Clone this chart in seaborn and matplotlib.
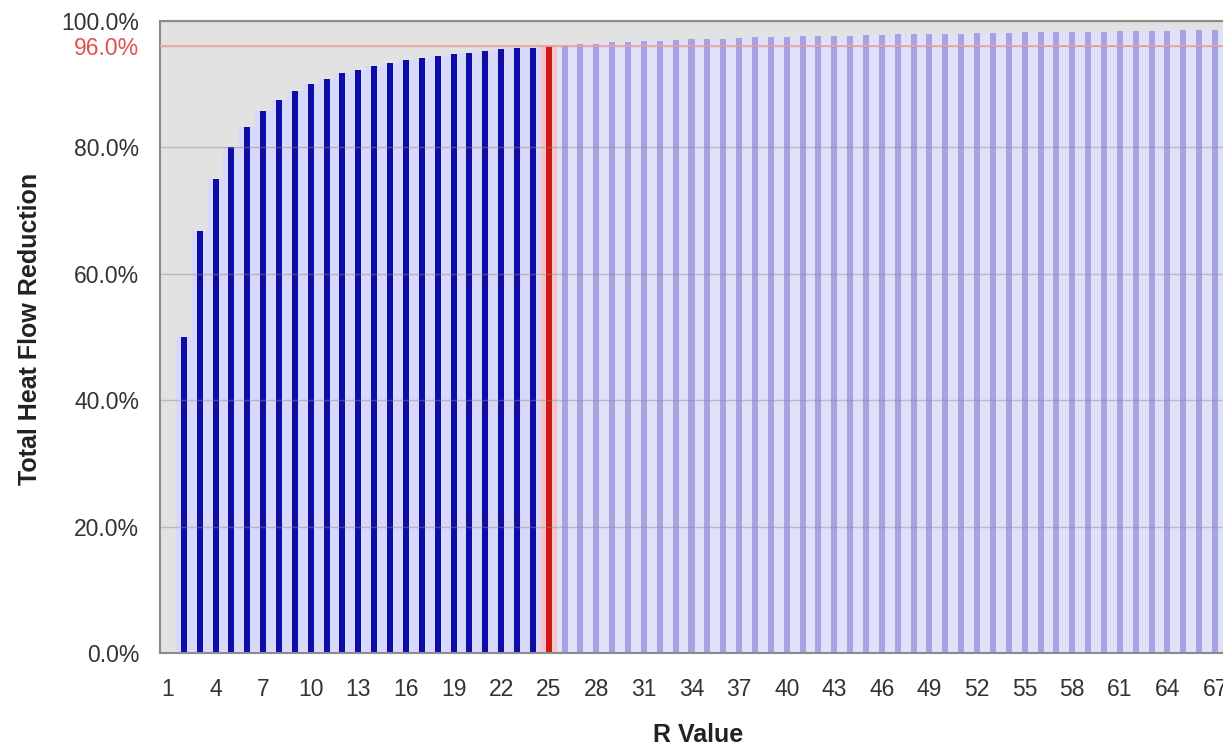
import numpy as np
import pandas as pd
import seaborn as sns
import matplotlib.pyplot as plt
from matplotlib.ticker import FixedLocator

# R value (categories) and total heat flow reduction in %
r_values = list(range(1, 68))
reduction = [0.0, 50.0, 66.7, 75.0, 80.0, 83.3, 85.7, 87.5, 88.9, 90.0,
             90.9, 91.7, 92.3, 92.9, 93.3, 93.8, 94.1, 94.4, 94.7, 95.0,
             95.2, 95.5, 95.7, 95.8, 96.0, 96.2, 96.3, 96.4, 96.6, 96.7,
             96.8, 96.9, 97.0, 97.1, 97.1, 97.2, 97.3, 97.4, 97.4, 97.5,
             97.6, 97.6, 97.7, 97.7, 97.8, 97.8, 97.9, 97.9, 98.0, 98.0,
             98.0, 98.1, 98.1, 98.1, 98.2, 98.2, 98.2, 98.3, 98.3, 98.3,
             98.4, 98.4, 98.4, 98.4, 98.5, 98.5, 98.5]
target_r = 25
target_pct = 96.0
y_ticks = [0, 20, 40, 60, 80, 100]

df = pd.DataFrame({'R': r_values, 'reduction': reduction})
df['group'] = np.where(df['R'] < target_r, 'below',
                       np.where(df['R'] == target_r, 'target', 'above'))

sns.set_style('white')
plt.rcParams['font.family'] = ['Liberation Sans', 'DejaVu Sans']

fig = plt.figure(figsize=(12.23, 7.47), dpi=100)
ax = fig.add_axes([160 / 1223, 1 - 653 / 747, 1 - 160 / 1223, (653 - 21) / 747])
ax.set_facecolor('#E2E2E2')

# wide pale fill behind each bar
back_cols = {'below': '#D8D8FB', 'target': '#F6C4C8', 'above': '#E0E0F9'}
sns.barplot(ax=ax, data=df, x='R', y='reduction', hue='group', palette=back_cols,
            width=1.0, dodge=False, saturation=1, legend=False, linewidth=0)
# narrow bars in front
bar_cols = {'below': '#0E0EA6', 'target': '#D01818', 'above': '#A4A4E2'}
sns.barplot(ax=ax, data=df, x='R', y='reduction', hue='group', palette=bar_cols,
            width=0.38, dodge=False, saturation=1, legend=False, linewidth=0)

ax.set_xlim(-0.5, 66.5)
ax.set_ylim(0, 100)

# y axis
ax.set_yticks(y_ticks + [target_pct])
ax.set_yticklabels([f'{v:.1f}%' for v in y_ticks + [target_pct]])
ax.yaxis.grid(True, color='#8A8A8A', lw=1, alpha=0.45)
ax.set_axisbelow(False)
ax.axhline(target_pct, color='#F2A0A0', lw=1.2, zorder=3)
ax.tick_params(axis='y', length=6, color='#999999', labelsize=16.5, labelcolor='#333333', pad=9)
for lab, tl in zip(ax.get_yticklabels(), ax.yaxis.get_major_ticks()):
    if lab.get_text() == f'{target_pct:.1f}%':
        lab.set_color('#E05050')
        tl.tick1line.set_color('#F2A0A0')

# x axis
pos = list(range(0, len(r_values), 3))
ax.set_xticks(pos)
ax.set_xticklabels([str(r_values[p]) for p in pos])
ax.xaxis.set_minor_locator(FixedLocator(np.arange(-0.5, 66.6, 1)))
ax.tick_params(axis='x', which='major', length=0, labelsize=16.5, labelcolor='#333333', pad=18)
ax.tick_params(axis='x', which='minor', length=5, color='#AAAAAA')

for side in ['left', 'top', 'bottom']:
    ax.spines[side].set_color('#8C8C8C')
    ax.spines[side].set_linewidth(1.5)
ax.spines['right'].set_visible(False)

ax.set_xlabel('R Value', fontsize=18, fontweight='bold', color='#222222')
ax.set_ylabel('Total Heat Flow Reduction', fontsize=18, fontweight='bold', color='#222222')
ax.yaxis.set_label_coords(30 / 1223, 1 - 329 / 747, transform=fig.transFigure)
ax.xaxis.set_label_coords(698 / 1223, 1 - 735 / 747, transform=fig.transFigure)
ax.yaxis.label.set_verticalalignment('center')
ax.xaxis.label.set_verticalalignment('center')

plt.savefig('out.png', dpi=100)
